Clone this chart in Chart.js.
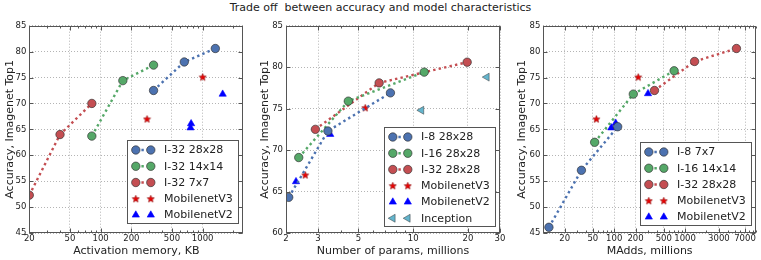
<!DOCTYPE html>
<html>
<head>
<meta charset="utf-8">
<script src="https://cdn.jsdelivr.net/npm/chart.js@4.4.1/dist/chart.umd.min.js"></script>
<style>
  html, body { margin: 0; padding: 0; background: #fff; }
  #wrap { position: relative; width: 761px; height: 260px; overflow: hidden; }
  #title { position: absolute; left: 0; top: 1px; width: 761px; text-align: center; font: 11px 'DejaVu Sans', sans-serif; color: #222; white-space: pre; }
  canvas { position: absolute; top: 0; }
</style>
</head>
<body>
<div id="wrap">
  <div id="title">Trade off  between accuracy and model characteristics</div>
  <canvas id="c1" width="253" height="260" style="left:0px"></canvas>
  <canvas id="c2" width="257" height="260" style="left:253px"></canvas>
  <canvas id="c3" width="251" height="260" style="left:510px"></canvas>
</div>
<script>
// Panel 1: activation memory (KB) vs top1
const memI32_28 = [330, 660, 1330], accMemI32_28 = [72.5, 78.0, 80.6];
const memI32_14 = [82, 165, 330], accMemI32_14 = [63.7, 74.4, 77.4];
const memI32_7 = [20, 40, 82], accMemI32_7 = [52.3, 64.0, 70.0];
const memV3 = [285, 1000], accMemV3 = [67.0, 75.1];
const memV2 = [760, 770, 1570], accMemV2 = [65.3, 66.1, 71.8];
const memTicks = [20, 50, 100, 200, 500, 1000];

// Panel 2: number of params (millions) vs top1
const parI8_28 = [2.07, 3.4, 7.5], accParI8_28 = [64.3, 72.3, 76.9];
const parI16_28 = [2.35, 4.4, 11.5], accParI16_28 = [69.1, 75.9, 79.4];
const parI32_28 = [2.9, 6.5, 19.8], accParI32_28 = [72.5, 78.1, 80.6];
const parV3 = [2.55, 5.45], accParV3 = [67.0, 75.1];
const parV2 = [2.27, 3.5], accParV2 = [66.2, 71.9];
const parIncep = [11.1, 25.4], accParIncep = [74.8, 78.8];
const parTicks = [2, 3, 5, 10, 20, 30];

// Panel 3: MAdds (millions) vs top1
const maddI8_7 = [12, 34.5, 112], accMaddI8_7 = [46.1, 57.1, 65.5];
const maddI16_14 = [53, 186, 700], accMaddI16_14 = [62.5, 71.8, 76.3];
const maddI32_28 = [370, 1360, 5300], accMaddI32_28 = [72.5, 78.1, 80.6];
const maddV3 = [56, 218], accMaddV3 = [67.0, 75.1];
const maddV2 = [91, 105, 300], accMaddV2 = [65.3, 66.2, 71.9];
const maddTicks = [20, 50, 100, 200, 500, 1000, 3000, 7000];

const FONT = "'DejaVu Sans', sans-serif";
const BLUE = '#4c72b0', GREEN = '#55a868', RED = '#c44e52';

// filled 5-point star marker
function starImage() {
  const c = document.createElement('canvas');
  c.width = 9; c.height = 9;
  const g = c.getContext('2d');
  g.beginPath();
  for (let k = 0; k < 10; k++) {
    const r = k % 2 ? 1.6 : 3.8;
    const a = -Math.PI / 2 + k * Math.PI / 5;
    g.lineTo(4.5 + r * Math.cos(a), 4.8 + r * Math.sin(a));
  }
  g.closePath();
  g.fillStyle = '#ee0000'; g.fill();
  g.strokeStyle = '#8a0000'; g.lineWidth = 0.6; g.stroke();
  return c;
}
const STAR = starImage();

function pts(xs, ys) { return xs.map((x, i) => ({ x, y: ys[i] })); }

function lineSet(label, xs, ys, color) {
  return {
    label, data: pts(xs, ys), showLine: true,
    borderColor: color, borderWidth: 2.4, borderDash: [2.4, 3.2], borderCapStyle: 'butt',
    pointStyle: 'circle', pointRadius: 4.2, pointHoverRadius: 4.2,
    pointBackgroundColor: color, pointBorderColor: 'rgba(50,50,50,0.85)', pointBorderWidth: 0.8
  };
}
function starSet(xs, ys) {
  return {
    label: 'MobilenetV3', data: pts(xs, ys), showLine: false,
    pointStyle: STAR, pointRadius: 4.5, pointHoverRadius: 4.5,
    pointBackgroundColor: '#ee0000', pointBorderColor: '#8a0000', pointBorderWidth: 0
  };
}
function triSet(xs, ys) {
  return {
    label: 'MobilenetV2', data: pts(xs, ys), showLine: false,
    pointStyle: 'triangle', pointRadius: 4.2, pointHoverRadius: 4.2,
    pointBackgroundColor: '#0000ff', pointBorderColor: '#0000ff', pointBorderWidth: 0.6
  };
}
function incepSet(xs, ys) {
  return {
    label: 'Inception', data: pts(xs, ys), showLine: false,
    pointStyle: 'triangle', pointRotation: 270, pointRadius: 4.6, pointHoverRadius: 4.6,
    pointBackgroundColor: '#64b5cd', pointBorderColor: 'rgba(50,50,50,0.7)', pointBorderWidth: 0.7
  };
}

// box around the plot area, with inward ticks like matplotlib
const frame = {
  id: 'frame',
  afterDraw(chart) {
    const a = chart.chartArea, c = chart.ctx;
    const xs = chart.scales.x, ys = chart.scales.y;
    const L = Math.round(a.left) + 0.5, R = Math.round(a.right) - 0.5;
    const T = Math.round(a.top) + 0.5, B = Math.round(a.bottom) - 0.5;
    c.save();
    c.strokeStyle = '#555'; c.lineWidth = 1;
    c.beginPath();
    // log minor + major ticks on x
    const minors = [];
    for (let e = -1; e <= 5; e++) {
      for (let m = 1; m <= 9; m++) minors.push(m * Math.pow(10, e));
    }
    minors.forEach(v => {
      if (v < xs.min || v > xs.max) return;
      const px = Math.round(xs.getPixelForValue(v)) + 0.5;
      c.moveTo(px, B); c.lineTo(px, B - 2);
      c.moveTo(px, T); c.lineTo(px, T + 2);
    });
    xs.ticks.forEach(t => {
      const px = Math.round(xs.getPixelForValue(t.value)) + 0.5;
      c.moveTo(px, B); c.lineTo(px, B - 4);
      c.moveTo(px, T); c.lineTo(px, T + 4);
    });
    ys.ticks.forEach(t => {
      const py = Math.round(ys.getPixelForValue(t.value)) + 0.5;
      c.moveTo(L, py); c.lineTo(L + 4, py);
      c.moveTo(R, py); c.lineTo(R - 4, py);
    });
    c.stroke();
    c.strokeRect(L, T, R - L, B - T);
    c.restore();
  }
};

// matplotlib-like legend in the lower right corner
const boxLegend = {
  id: 'boxLegend',
  afterDraw(chart, args, opts) {
    const { ctx, chartArea: a } = chart;
    const sets = chart.data.datasets;
    ctx.save();
    ctx.font = '11px ' + FONT;
    const tw = Math.max(...sets.map(d => ctx.measureText(d.label).width));
    const rowH = 16.25;
    const w = 36.6 + tw + 5.5;
    const h = 17.5 + rowH * (sets.length - 1);
    const x0 = Math.round(a.right - opts.right - w) + 0.5;
    const y0 = Math.round(a.bottom - opts.bottom - h) + 0.5;
    ctx.fillStyle = '#fff';
    ctx.fillRect(x0, y0, w, h);
    ctx.strokeStyle = '#555'; ctx.lineWidth = 1;
    ctx.strokeRect(x0, y0, Math.round(w), Math.round(h));
    sets.forEach((d, i) => {
      const y = y0 + 9.5 + rowH * i;
      const xa = x0 + 8.3, xb = x0 + 23.3;
      if (d.showLine) {
        ctx.save();
        ctx.strokeStyle = d.borderColor; ctx.lineWidth = d.borderWidth;
        ctx.setLineDash(d.borderDash);
        ctx.beginPath(); ctx.moveTo(xa, y); ctx.lineTo(xb, y); ctx.stroke();
        ctx.restore();
      }
      [xa, xb].forEach(x => {
        ctx.fillStyle = d.pointBackgroundColor;
        ctx.strokeStyle = d.pointBorderColor;
        ctx.lineWidth = d.pointBorderWidth;
        Chart.helpers.drawPoint(ctx, {
          pointStyle: d.pointStyle, rotation: d.pointRotation || 0,
          radius: d.pointRadius, borderWidth: d.pointBorderWidth
        }, x, y);
      });
      ctx.fillStyle = '#222';
      ctx.textBaseline = 'middle';
      ctx.textAlign = 'left';
      ctx.fillText(d.label, x0 + 36.6, y + 0.5);
    });
    ctx.restore();
  }
};

function makePanel(id, p) {
  const tickFont = { family: FONT, size: 8.5 };
  const titleFont = { family: FONT, size: 11 };
  new Chart(document.getElementById(id), {
    type: 'scatter',
    data: { datasets: p.datasets },
    options: {
      responsive: false, animation: false, events: [],
      layout: { padding: { top: 25.7, right: p.padRight, left: 0, bottom: 0 } },
      plugins: {
        legend: { display: false }, tooltip: { enabled: false },
        boxLegend: { right: p.legRight, bottom: p.legBottom }
      },
      scales: {
        x: {
          type: 'logarithmic', min: p.xMin, max: p.xMax,
          afterBuildTicks: s => { s.ticks = p.xTicks.map(v => ({ value: v })); },
          afterFit: s => { s.height = 27; },
          ticks: { autoSkip: false, maxRotation: 0, padding: 1, font: tickFont, color: '#222', callback: v => String(v) },
          grid: { color: '#b4b4b4', lineWidth: 1, drawTicks: false },
          border: { display: false, dash: [1, 2] },
          title: { display: true, text: p.xTitle, font: titleFont, color: '#222', padding: { top: 0, bottom: 2.4 } }
        },
        y: {
          min: p.yMin, max: p.yMax,
          afterFit: s => { s.width = p.yWidth; },
          ticks: { stepSize: 5, padding: 3, font: tickFont, color: '#222', callback: v => String(v) },
          grid: { color: '#b4b4b4', lineWidth: 1, drawTicks: false },
          border: { display: false, dash: [1, 2] },
          title: { display: true, text: 'Accuracy, Imagenet Top1', font: titleFont, color: '#222', padding: { top: p.yTitlePad, bottom: 0 } }
        }
      }
    },
    plugins: [frame, boxLegend]
  });
}

makePanel('c1', {
  datasets: [
    lineSet('I-32 28x28', memI32_28, accMemI32_28, BLUE),
    lineSet('I-32 14x14', memI32_14, accMemI32_14, GREEN),
    lineSet('I-32 7x7', memI32_7, accMemI32_7, RED),
    starSet(memV3, accMemV3),
    triSet(memV2, accMemV2)
  ],
  xMin: 20, xMax: 2500, xTicks: memTicks, yMin: 45, yMax: 85,
  xTitle: 'Activation memory, KB', yWidth: 29.3, padRight: 9.7, yTitlePad: 4,
  legRight: 6, legBottom: 10.3
});

makePanel('c2', {
  datasets: [
    lineSet('I-8 28x28', parI8_28, accParI8_28, BLUE),
    lineSet('I-16 28x28', parI16_28, accParI16_28, GREEN),
    lineSet('I-32 28x28', parI32_28, accParI32_28, RED),
    starSet(parV3, accParV3),
    triSet(parV2, accParV2),
    incepSet(parIncep, accParIncep)
  ],
  xMin: 2, xMax: 30, xTicks: parTicks, yMin: 60, yMax: 85,
  xTitle: 'Number of params, millions', yWidth: 33, padRight: 10, yTitlePad: 6,
  legRight: 5, legBottom: 7
});

makePanel('c3', {
  datasets: [
    lineSet('I-8 7x7', maddI8_7, accMaddI8_7, BLUE),
    lineSet('I-16 14x14', maddI16_14, accMaddI16_14, GREEN),
    lineSet('I-32 28x28', maddI32_28, accMaddI32_28, RED),
    starSet(maddV3, accMaddV3),
    triSet(maddV2, accMaddV2)
  ],
  xMin: 10, xMax: 10000, xTicks: maddTicks, yMin: 45, yMax: 85,
  xTitle: 'MAdds, millions', yWidth: 33.3, padRight: 3.5, yTitlePad: 6,
  legRight: 5, legBottom: 8.5
});
</script>
</body>
</html>
